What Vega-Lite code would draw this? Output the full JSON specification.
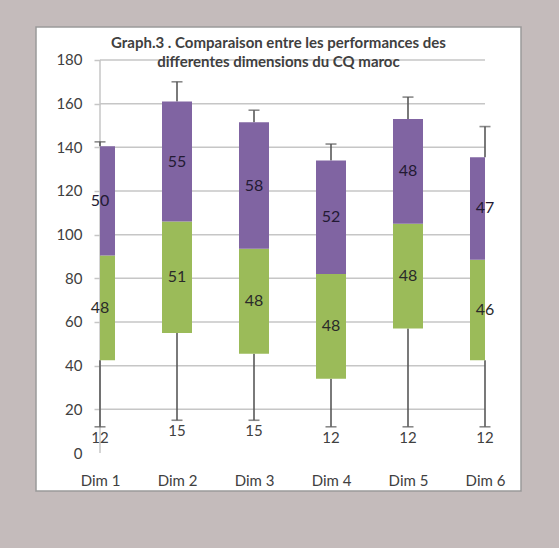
{
  "$schema": "https://vega.github.io/schema/vega-lite/v6.json",
  "width": 485,
  "height": 464,
  "autosize": "none",
  "padding": {"left": 36, "top": 27, "right": 38, "bottom": 57},
  "background": "#c4bbbb",
  "config": {
    "view": {"fill": "white", "stroke": "#9a9a9a", "strokeWidth": 1.5},
    "font": "Lato"
  },
  "title": {
    "text": ["Graph.3 . Comparaison entre les performances des", "differentes dimensions du CQ maroc"],
    "fontSize": 15,
    "fontWeight": "bold",
    "color": "#404040",
    "anchor": "middle",
    "frame": "group",
    "baseline": "top",
    "offset": -43,
    "lineHeight": 19
  },
  "datasets": {
    "boxes": [
      {"cat": "Dim 1", "min": 12, "q1": 42.5, "med": 90.5, "q3": 140.5, "max": 142.5, "low": 48, "high": 50},
      {"cat": "Dim 2", "min": 15, "q1": 55, "med": 106, "q3": 161, "max": 170, "low": 51, "high": 55},
      {"cat": "Dim 3", "min": 15, "q1": 45.5, "med": 93.5, "q3": 151.5, "max": 157, "low": 48, "high": 58},
      {"cat": "Dim 4", "min": 12, "q1": 34, "med": 82, "q3": 134, "max": 141.5, "low": 48, "high": 52},
      {"cat": "Dim 5", "min": 12, "q1": 57, "med": 105, "q3": 153, "max": 163, "low": 48, "high": 48},
      {"cat": "Dim 6", "min": 12, "q1": 42.5, "med": 88.5, "q3": 135.5, "max": 149.5, "low": 46, "high": 47}
    ],
    "grid": [{"v": 20}, {"v": 40}, {"v": 60}, {"v": 80}, {"v": 100}, {"v": 120}, {"v": 140}, {"v": 160}, {"v": 180}]
  },
  "resolve": {"scale": {"x": "shared", "y": "shared"}},
  "layer": [
    {
      "data": {"name": "grid"},
      "mark": {"type": "rule", "color": "#c6c6c6", "strokeWidth": 1.5},
      "encoding": {
        "x": {"datum": "Dim 1", "type": "ordinal",
          "scale": {"type": "point", "domain": ["Dim 1", "Dim 2", "Dim 3", "Dim 4", "Dim 5", "Dim 6"], "padding": 0.6494, "align": 0.64},
          "axis": {"title": null, "domain": false, "ticks": false, "tickSize": 0, "labelPadding": 0, "offset": -18, "labelFontSize": 15, "labelColor": "#404040", "labelBaseline": "top", "labelAngle": 0}},
        "x2": {"datum": "Dim 6"},
        "y": {"field": "v", "type": "quantitative",
          "scale": {"domain": [-17.4, 195.1], "nice": false, "zero": false},
          "axis": {"title": null, "values": [0, 20, 40, 60, 80, 100, 120, 140, 160, 180], "domain": false, "grid": false,
            "offset": -64, "tickSize": 6, "tickColor": "#c6c6c6", "tickWidth": 1.5,
            "tickOpacity": {"condition": {"test": "datum.value == 0", "value": 0}, "value": 1},
            "labelPadding": 12, "labelFontSize": 15, "labelColor": "#404040"}}
      }
    },
    {
      "data": {"values": [{"axis": "y"}]},
      "mark": {"type": "rule", "color": "#c6c6c6", "strokeWidth": 1.5},
      "encoding": {
        "x": {"datum": "Dim 1", "type": "ordinal"},
        "y": {"datum": 0, "type": "quantitative"},
        "y2": {"datum": 180}
      }
    },
    {
      "data": {"name": "boxes"},
      "mark": {"type": "rule", "color": "#595959", "strokeWidth": 1.6},
      "encoding": {
        "x": {"field": "cat", "type": "ordinal"},
        "y": {"field": "min", "type": "quantitative"},
        "y2": {"field": "q1"}
      }
    },
    {
      "data": {"name": "boxes"},
      "mark": {"type": "rule", "color": "#595959", "strokeWidth": 1.6},
      "encoding": {
        "x": {"field": "cat", "type": "ordinal"},
        "y": {"field": "q3", "type": "quantitative"},
        "y2": {"field": "max"}
      }
    },
    {
      "data": {"name": "boxes"},
      "mark": {"type": "bar", "color": "#9bbb59",
        "width": {"expr": "datum.cat === 'Dim 1' || datum.cat === 'Dim 6' ? 15 : 30"},
        "xOffset": {"expr": "datum.cat === 'Dim 1' ? 7.5 : (datum.cat === 'Dim 6' ? -7.5 : 0)"}},
      "encoding": {
        "x": {"field": "cat", "type": "ordinal"},
        "y": {"field": "q1", "type": "quantitative"},
        "y2": {"field": "med"}
      }
    },
    {
      "data": {"name": "boxes"},
      "mark": {"type": "bar", "color": "#8064a2",
        "width": {"expr": "datum.cat === 'Dim 1' || datum.cat === 'Dim 6' ? 15 : 30"},
        "xOffset": {"expr": "datum.cat === 'Dim 1' ? 7.5 : (datum.cat === 'Dim 6' ? -7.5 : 0)"}},
      "encoding": {
        "x": {"field": "cat", "type": "ordinal"},
        "y": {"field": "med", "type": "quantitative"},
        "y2": {"field": "q3"}
      }
    },
    {
      "data": {"name": "boxes"},
      "mark": {"type": "tick", "color": "#595959", "size": 11, "thickness": 1.6},
      "encoding": {
        "x": {"field": "cat", "type": "ordinal"},
        "y": {"field": "min", "type": "quantitative"}
      }
    },
    {
      "data": {"name": "boxes"},
      "mark": {"type": "tick", "color": "#595959", "size": 11, "thickness": 1.6},
      "encoding": {
        "x": {"field": "cat", "type": "ordinal"},
        "y": {"field": "max", "type": "quantitative"}
      }
    },
    {
      "data": {"name": "boxes"},
      "transform": [{"fold": ["q1", "med"], "as": ["k", "val"]}],
      "mark": {"type": "text", "fontSize": 16, "color": "#2a2a2a", "baseline": "middle", "align": "center"},
      "encoding": {
        "x": {"field": "cat", "type": "ordinal"},
        "y": {"aggregate": "mean", "field": "val", "type": "quantitative"},
        "text": {"aggregate": "max", "field": "low", "type": "quantitative"}
      }
    },
    {
      "data": {"name": "boxes"},
      "transform": [{"fold": ["med", "q3"], "as": ["k", "val"]}],
      "mark": {"type": "text", "fontSize": 16, "color": "#231a33", "baseline": "middle", "align": "center"},
      "encoding": {
        "x": {"field": "cat", "type": "ordinal"},
        "y": {"aggregate": "mean", "field": "val", "type": "quantitative"},
        "text": {"aggregate": "max", "field": "high", "type": "quantitative"}
      }
    },
    {
      "data": {"name": "boxes"},
      "mark": {"type": "text", "fontSize": 15, "color": "#404040", "baseline": "top", "align": "center", "dy": 4},
      "encoding": {
        "x": {"field": "cat", "type": "ordinal"},
        "y": {"field": "min", "type": "quantitative"},
        "text": {"field": "min", "type": "quantitative"}
      }
    }
  ]
}
